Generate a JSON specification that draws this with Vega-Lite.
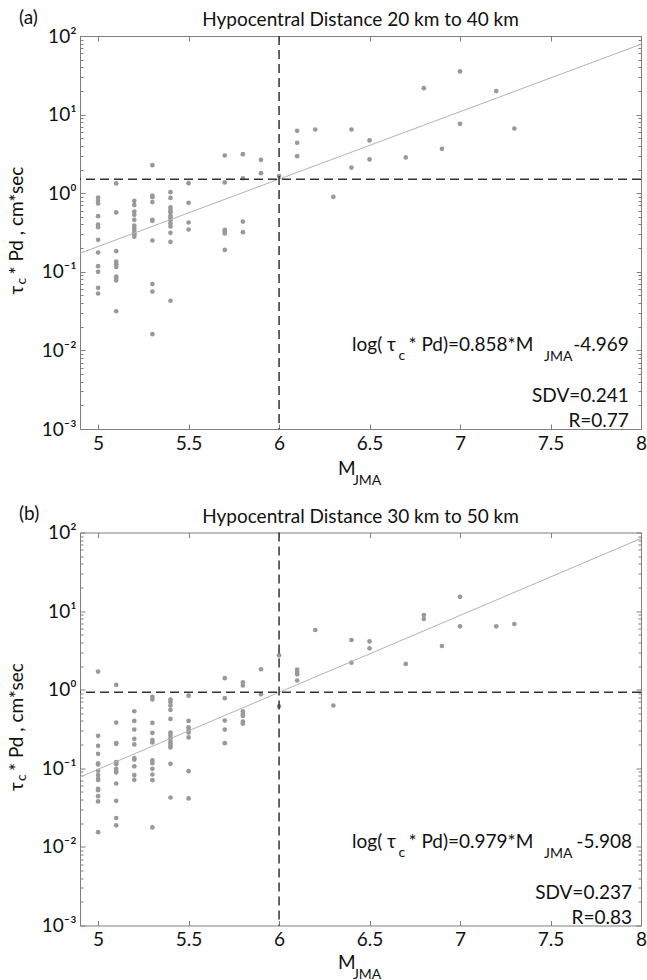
{
  "$schema": "https://vega.github.io/schema/vega-lite/v6.json",
  "padding": {"left": 7, "top": 8, "right": 0, "bottom": 0},
  "bounds": "flush",
  "spacing": 103.5,
  "datasets": {
    "pts": [
      {"p":"a","M":5.0,"v":0.88},{"p":"a","M":5.0,"v":0.81},{"p":"a","M":5.0,"v":0.74},{"p":"a","M":5.0,"v":0.51},{"p":"a","M":5.0,"v":0.40},{"p":"a","M":5.0,"v":0.37},{"p":"a","M":5.0,"v":0.255},{"p":"a","M":5.0,"v":0.176},{"p":"a","M":5.0,"v":0.118},{"p":"a","M":5.0,"v":0.100},{"p":"a","M":5.0,"v":0.0625},{"p":"a","M":5.0,"v":0.053},
      {"p":"a","M":5.1,"v":1.33},{"p":"a","M":5.1,"v":0.57},{"p":"a","M":5.1,"v":0.183},{"p":"a","M":5.1,"v":0.135},{"p":"a","M":5.1,"v":0.125},{"p":"a","M":5.1,"v":0.115},{"p":"a","M":5.1,"v":0.087},{"p":"a","M":5.1,"v":0.083},{"p":"a","M":5.1,"v":0.0775},{"p":"a","M":5.1,"v":0.0315},
      {"p":"a","M":5.2,"v":0.80},{"p":"a","M":5.2,"v":0.71},{"p":"a","M":5.2,"v":0.585},{"p":"a","M":5.2,"v":0.53},{"p":"a","M":5.2,"v":0.458},{"p":"a","M":5.2,"v":0.388},{"p":"a","M":5.2,"v":0.359},{"p":"a","M":5.2,"v":0.332},{"p":"a","M":5.2,"v":0.31},{"p":"a","M":5.2,"v":0.295},{"p":"a","M":5.2,"v":0.279},
      {"p":"a","M":5.3,"v":2.27},{"p":"a","M":5.3,"v":0.93},{"p":"a","M":5.3,"v":0.89},{"p":"a","M":5.3,"v":0.77},{"p":"a","M":5.3,"v":0.458},{"p":"a","M":5.3,"v":0.445},{"p":"a","M":5.3,"v":0.25},{"p":"a","M":5.3,"v":0.0697},{"p":"a","M":5.3,"v":0.056},{"p":"a","M":5.3,"v":0.0161},
      {"p":"a","M":5.4,"v":1.03},{"p":"a","M":5.4,"v":0.87},{"p":"a","M":5.4,"v":0.66},{"p":"a","M":5.4,"v":0.61},{"p":"a","M":5.4,"v":0.574},{"p":"a","M":5.4,"v":0.515},{"p":"a","M":5.4,"v":0.49},{"p":"a","M":5.4,"v":0.454},{"p":"a","M":5.4,"v":0.412},{"p":"a","M":5.4,"v":0.377},{"p":"a","M":5.4,"v":0.313},{"p":"a","M":5.4,"v":0.24},{"p":"a","M":5.4,"v":0.0428},
      {"p":"a","M":5.5,"v":1.34},{"p":"a","M":5.5,"v":0.755},{"p":"a","M":5.5,"v":0.424},{"p":"a","M":5.5,"v":0.345},
      {"p":"a","M":5.7,"v":3.02},{"p":"a","M":5.7,"v":1.37},{"p":"a","M":5.7,"v":0.342},{"p":"a","M":5.7,"v":0.326},{"p":"a","M":5.7,"v":0.307},{"p":"a","M":5.7,"v":0.19},
      {"p":"a","M":5.8,"v":3.14},{"p":"a","M":5.8,"v":1.55},{"p":"a","M":5.8,"v":0.436},{"p":"a","M":5.8,"v":0.319},
      {"p":"a","M":5.9,"v":2.66},{"p":"a","M":5.9,"v":1.80},
      {"p":"a","M":6.0,"v":1.65},
      {"p":"a","M":6.1,"v":6.22},{"p":"a","M":6.1,"v":4.37},{"p":"a","M":6.1,"v":2.96},
      {"p":"a","M":6.2,"v":6.46},
      {"p":"a","M":6.3,"v":0.90},
      {"p":"a","M":6.4,"v":6.46},{"p":"a","M":6.4,"v":2.12},
      {"p":"a","M":6.5,"v":4.69},{"p":"a","M":6.5,"v":2.69},
      {"p":"a","M":6.7,"v":2.85},
      {"p":"a","M":6.8,"v":21.7},
      {"p":"a","M":6.9,"v":3.67},
      {"p":"a","M":7.0,"v":35.4},{"p":"a","M":7.0,"v":7.63},
      {"p":"a","M":7.2,"v":19.9},
      {"p":"a","M":7.3,"v":6.66},
      {"p":"b","M":5.0,"v":1.70},{"p":"b","M":5.0,"v":0.259},{"p":"b","M":5.0,"v":0.193},{"p":"b","M":5.0,"v":0.153},{"p":"b","M":5.0,"v":0.116},{"p":"b","M":5.0,"v":0.112},{"p":"b","M":5.0,"v":0.093},{"p":"b","M":5.0,"v":0.0819},{"p":"b","M":5.0,"v":0.0735},{"p":"b","M":5.0,"v":0.071},{"p":"b","M":5.0,"v":0.0548},{"p":"b","M":5.0,"v":0.0527},{"p":"b","M":5.0,"v":0.0442},{"p":"b","M":5.0,"v":0.0379},{"p":"b","M":5.0,"v":0.0154},
      {"p":"b","M":5.1,"v":1.15},{"p":"b","M":5.1,"v":0.382},{"p":"b","M":5.1,"v":0.209},{"p":"b","M":5.1,"v":0.205},{"p":"b","M":5.1,"v":0.120},{"p":"b","M":5.1,"v":0.113},{"p":"b","M":5.1,"v":0.0986},{"p":"b","M":5.1,"v":0.093},{"p":"b","M":5.1,"v":0.0885},{"p":"b","M":5.1,"v":0.0641},{"p":"b","M":5.1,"v":0.0386},{"p":"b","M":5.1,"v":0.0233},{"p":"b","M":5.1,"v":0.0188},
      {"p":"b","M":5.2,"v":0.532},{"p":"b","M":5.2,"v":0.401},{"p":"b","M":5.2,"v":0.311},{"p":"b","M":5.2,"v":0.237},{"p":"b","M":5.2,"v":0.201},{"p":"b","M":5.2,"v":0.135},{"p":"b","M":5.2,"v":0.129},{"p":"b","M":5.2,"v":0.106},{"p":"b","M":5.2,"v":0.0819},{"p":"b","M":5.2,"v":0.0714},
      {"p":"b","M":5.3,"v":0.81},{"p":"b","M":5.3,"v":0.75},{"p":"b","M":5.3,"v":0.378},{"p":"b","M":5.3,"v":0.282},{"p":"b","M":5.3,"v":0.228},{"p":"b","M":5.3,"v":0.213},{"p":"b","M":5.3,"v":0.126},{"p":"b","M":5.3,"v":0.116},{"p":"b","M":5.3,"v":0.0985},{"p":"b","M":5.3,"v":0.0834},{"p":"b","M":5.3,"v":0.0706},{"p":"b","M":5.3,"v":0.0177},
      {"p":"b","M":5.4,"v":0.75},{"p":"b","M":5.4,"v":0.70},{"p":"b","M":5.4,"v":0.63},{"p":"b","M":5.4,"v":0.553},{"p":"b","M":5.4,"v":0.425},{"p":"b","M":5.4,"v":0.285},{"p":"b","M":5.4,"v":0.266},{"p":"b","M":5.4,"v":0.242},{"p":"b","M":5.4,"v":0.219},{"p":"b","M":5.4,"v":0.205},{"p":"b","M":5.4,"v":0.193},{"p":"b","M":5.4,"v":0.184},{"p":"b","M":5.4,"v":0.114},{"p":"b","M":5.4,"v":0.0425},
      {"p":"b","M":5.5,"v":0.84},{"p":"b","M":5.5,"v":0.401},{"p":"b","M":5.5,"v":0.333},{"p":"b","M":5.5,"v":0.308},{"p":"b","M":5.5,"v":0.285},{"p":"b","M":5.5,"v":0.247},{"p":"b","M":5.5,"v":0.092},{"p":"b","M":5.5,"v":0.0414},
      {"p":"b","M":5.7,"v":1.40},{"p":"b","M":5.7,"v":0.78},{"p":"b","M":5.7,"v":0.405},{"p":"b","M":5.7,"v":0.311},{"p":"b","M":5.7,"v":0.209},
      {"p":"b","M":5.8,"v":1.24},{"p":"b","M":5.8,"v":1.13},{"p":"b","M":5.8,"v":0.532},{"p":"b","M":5.8,"v":0.492},{"p":"b","M":5.8,"v":0.464},{"p":"b","M":5.8,"v":0.394},{"p":"b","M":5.8,"v":0.371},
      {"p":"b","M":5.9,"v":1.82},{"p":"b","M":5.9,"v":0.875},
      {"p":"b","M":6.0,"v":2.74},{"p":"b","M":6.0,"v":0.616},
      {"p":"b","M":6.1,"v":1.80},{"p":"b","M":6.1,"v":1.68},{"p":"b","M":6.1,"v":1.57},{"p":"b","M":6.1,"v":1.31},
      {"p":"b","M":6.2,"v":5.75},
      {"p":"b","M":6.3,"v":0.63},
      {"p":"b","M":6.4,"v":4.29},{"p":"b","M":6.4,"v":2.21},
      {"p":"b","M":6.5,"v":4.13},{"p":"b","M":6.5,"v":3.36},
      {"p":"b","M":6.7,"v":2.13},
      {"p":"b","M":6.8,"v":8.91},{"p":"b","M":6.8,"v":7.93},
      {"p":"b","M":6.9,"v":3.60},
      {"p":"b","M":7.0,"v":15.2},{"p":"b","M":7.0,"v":6.40},
      {"p":"b","M":7.2,"v":6.40},
      {"p":"b","M":7.3,"v":6.85}
    ],
    "fit": [
      {"p":"a","M":4.9,"v":0.172},{"p":"a","M":8.0,"v":78.5},
      {"p":"b","M":4.9,"v":0.0775},{"p":"b","M":8.0,"v":83.9}
    ]
  },
  "vconcat": [
    {
      "width": 561, "height": 393,
      "layer": [
        {
          "data": {"name": "pts"},
          "transform": [{"filter": "datum.p == 'a'"}],
          "mark": {"type": "circle", "size": 22, "color": "#999999", "opacity": 1},
          "encoding": {
            "x": {"field": "M", "type": "quantitative", "scale": {"domain": [4.9, 8], "nice": false, "zero": false},
                  "axis": {"orient": "bottom", "title": null, "values": [5,5.5,6,6.5,7,7.5,8], "labelExpr": "'' + datum.value", "tickSize": -5, "labelPadding": 10}},
            "y": {"field": "v", "type": "quantitative", "scale": {"type": "log", "domain": [0.001, 100], "nice": false},
                  "axis": {"orient": "left", "title": null,
                           "values": [0.001,0.002,0.003,0.004,0.005,0.006,0.007,0.008,0.009,0.01,0.02,0.03,0.04,0.05,0.06,0.07,0.08,0.09,0.1,0.2,0.3,0.4,0.5,0.6,0.7,0.8,0.9,1,2,3,4,5,6,7,8,9,10,20,30,40,50,60,70,80,90,100],
                           "labelExpr": "datum.value == 100 ? '10²' : datum.value == 10 ? '10¹' : datum.value == 1 ? '10⁰' : datum.value == 0.1 ? '10⁻¹' : datum.value == 0.01 ? '10⁻²' : datum.value == 0.001 ? '10⁻³' : ''",
                           "tickSize": {"condition": {"test": "datum.value == 0.001 || datum.value == 0.01 || datum.value == 0.1 || datum.value == 1 || datum.value == 10 || datum.value == 100", "value": -5}, "value": -3},
                           "labelPadding": 9}}
          }
        },
        {
          "data": {"name": "fit"},
          "transform": [{"filter": "datum.p == 'a'"}],
          "mark": {"type": "line", "color": "#b3b3b3", "strokeWidth": 1},
          "encoding": {
            "x": {"field": "M", "type": "quantitative", "axis": {"orient": "top", "title": null, "labels": false, "values": [5,5.5,6,6.5,7,7.5,8], "tickSize": -5}},
            "y": {"field": "v", "type": "quantitative", "axis": {"orient": "right", "title": null, "labels": false,
                  "values": [0.001,0.002,0.003,0.004,0.005,0.006,0.007,0.008,0.009,0.01,0.02,0.03,0.04,0.05,0.06,0.07,0.08,0.09,0.1,0.2,0.3,0.4,0.5,0.6,0.7,0.8,0.9,1,2,3,4,5,6,7,8,9,10,20,30,40,50,60,70,80,90,100],
                  "tickSize": {"condition": {"test": "datum.value == 0.001 || datum.value == 0.01 || datum.value == 0.1 || datum.value == 1 || datum.value == 10 || datum.value == 100", "value": -5}, "value": -3}}}
          }
        },
        {"data": {"values": [{}]}, "mark": {"type": "rule", "color": "#333333", "strokeWidth": 1.5, "strokeDash": [9, 5]},
         "encoding": {"y": {"datum": 1.51, "type": "quantitative", "axis": null}}},
        {"data": {"values": [{}]}, "mark": {"type": "rule", "color": "#333333", "strokeWidth": 1.5, "strokeDash": [9, 5]},
         "encoding": {"x": {"datum": 6, "type": "quantitative", "axis": null}}},
        {"data": {"values": [{}]}, "mark": {"type": "text", "align": "center", "baseline": "alphabetic", "dy": -10},
         "encoding": {"x": {"datum": 6.45, "type": "quantitative", "axis": null}, "y": {"datum": 100, "type": "quantitative", "axis": null}, "text": {"value": "Hypocentral Distance 20 km to 40 km"}}},
        {"data": {"values": [{}]}, "mark": {"type": "text", "align": "right", "baseline": "alphabetic", "dy": 1},
         "encoding": {"x": {"datum": 6.646, "type": "quantitative", "axis": null}, "y": {"datum": 0.01, "type": "quantitative", "axis": null}, "text": {"value": "log( τ"}}},
        {"data": {"values": [{}]}, "mark": {"type": "text", "align": "left", "baseline": "alphabetic", "dy": 10, "fontSize": 14},
         "encoding": {"x": {"datum": 6.66, "type": "quantitative", "axis": null}, "y": {"datum": 0.01, "type": "quantitative", "axis": null}, "text": {"value": "c"}}},
        {"data": {"values": [{}]}, "mark": {"type": "text", "align": "left", "baseline": "alphabetic", "dy": 1},
         "encoding": {"x": {"datum": 6.715, "type": "quantitative", "axis": null}, "y": {"datum": 0.01, "type": "quantitative", "axis": null}, "text": {"value": "* Pd)=0.858*M"}}},
        {"data": {"values": [{}]}, "mark": {"type": "text", "align": "left", "baseline": "alphabetic", "dy": 11, "fontSize": 14},
         "encoding": {"x": {"datum": 7.464, "type": "quantitative", "axis": null}, "y": {"datum": 0.01, "type": "quantitative", "axis": null}, "text": {"value": "JMA"}}},
        {"data": {"values": [{}]}, "mark": {"type": "text", "align": "right", "baseline": "alphabetic", "dy": 1},
         "encoding": {"x": {"datum": 7.933, "type": "quantitative", "axis": null}, "y": {"datum": 0.01, "type": "quantitative", "axis": null}, "text": {"value": "-4.969"}}},
        {"data": {"values": [{}]}, "mark": {"type": "text", "align": "right", "baseline": "alphabetic", "dy": 52},
         "encoding": {"x": {"datum": 7.933, "type": "quantitative", "axis": null}, "y": {"datum": 0.01, "type": "quantitative", "axis": null}, "text": {"value": "SDV=0.241"}}},
        {"data": {"values": [{}]}, "mark": {"type": "text", "align": "right", "baseline": "alphabetic", "dy": 77},
         "encoding": {"x": {"datum": 7.933, "type": "quantitative", "axis": null}, "y": {"datum": 0.01, "type": "quantitative", "axis": null}, "text": {"value": "R=0.77"}}},
        {"data": {"values": [{}]}, "mark": {"type": "text", "align": "left", "baseline": "alphabetic", "dy": 46},
         "encoding": {"x": {"datum": 6.325, "type": "quantitative", "axis": null}, "y": {"datum": 0.001, "type": "quantitative", "axis": null}, "text": {"value": "M"}}},
        {"data": {"values": [{}]}, "mark": {"type": "text", "align": "left", "baseline": "alphabetic", "dy": 56, "fontSize": 14},
         "encoding": {"x": {"datum": 6.408, "type": "quantitative", "axis": null}, "y": {"datum": 0.001, "type": "quantitative", "axis": null}, "text": {"value": "JMA"}}},
        {"data": {"values": [{}]}, "mark": {"type": "text", "align": "left", "baseline": "alphabetic", "dx": -61, "dy": -12},
         "encoding": {"x": {"datum": 4.9, "type": "quantitative", "axis": null}, "y": {"datum": 100, "type": "quantitative", "axis": null}, "text": {"value": "(a)"}}},
        {"data": {"values": [{}]}, "mark": {"type": "text", "align": "left", "baseline": "alphabetic", "angle": 270, "dx": 0, "dy": -57},
         "encoding": {"x": {"datum": 4.9, "type": "quantitative", "axis": null}, "y": {"datum": 0.0514, "type": "quantitative", "axis": null}, "text": {"value": "τ"}}},
        {"data": {"values": [{}]}, "mark": {"type": "text", "align": "left", "baseline": "alphabetic", "angle": 270, "dx": 10, "dy": -54, "fontSize": 14},
         "encoding": {"x": {"datum": 4.9, "type": "quantitative", "axis": null}, "y": {"datum": 0.0514, "type": "quantitative", "axis": null}, "text": {"value": "c"}}},
        {"data": {"values": [{}]}, "mark": {"type": "text", "align": "left", "baseline": "alphabetic", "angle": 270, "dx": 20, "dy": -57},
         "encoding": {"x": {"datum": 4.9, "type": "quantitative", "axis": null}, "y": {"datum": 0.0514, "type": "quantitative", "axis": null}, "text": {"value": "* Pd , cm*sec"}}}
      ],
      "resolve": {"axis": {"x": "independent", "y": "independent"}}
    },
    {
      "width": 561, "height": 393,
      "layer": [
        {
          "data": {"name": "pts"},
          "transform": [{"filter": "datum.p == 'b'"}],
          "mark": {"type": "circle", "size": 22, "color": "#999999", "opacity": 1},
          "encoding": {
            "x": {"field": "M", "type": "quantitative", "scale": {"domain": [4.9, 8], "nice": false, "zero": false},
                  "axis": {"orient": "bottom", "title": null, "values": [5,5.5,6,6.5,7,7.5,8], "labelExpr": "'' + datum.value", "tickSize": -5, "labelPadding": 10}},
            "y": {"field": "v", "type": "quantitative", "scale": {"type": "log", "domain": [0.001, 100], "nice": false},
                  "axis": {"orient": "left", "title": null,
                           "values": [0.001,0.002,0.003,0.004,0.005,0.006,0.007,0.008,0.009,0.01,0.02,0.03,0.04,0.05,0.06,0.07,0.08,0.09,0.1,0.2,0.3,0.4,0.5,0.6,0.7,0.8,0.9,1,2,3,4,5,6,7,8,9,10,20,30,40,50,60,70,80,90,100],
                           "labelExpr": "datum.value == 100 ? '10²' : datum.value == 10 ? '10¹' : datum.value == 1 ? '10⁰' : datum.value == 0.1 ? '10⁻¹' : datum.value == 0.01 ? '10⁻²' : datum.value == 0.001 ? '10⁻³' : ''",
                           "tickSize": {"condition": {"test": "datum.value == 0.001 || datum.value == 0.01 || datum.value == 0.1 || datum.value == 1 || datum.value == 10 || datum.value == 100", "value": -5}, "value": -3},
                           "labelPadding": 9}}
          }
        },
        {
          "data": {"name": "fit"},
          "transform": [{"filter": "datum.p == 'b'"}],
          "mark": {"type": "line", "color": "#b3b3b3", "strokeWidth": 1},
          "encoding": {
            "x": {"field": "M", "type": "quantitative", "axis": {"orient": "top", "title": null, "labels": false, "values": [5,5.5,6,6.5,7,7.5,8], "tickSize": -5}},
            "y": {"field": "v", "type": "quantitative", "axis": {"orient": "right", "title": null, "labels": false,
                  "values": [0.001,0.002,0.003,0.004,0.005,0.006,0.007,0.008,0.009,0.01,0.02,0.03,0.04,0.05,0.06,0.07,0.08,0.09,0.1,0.2,0.3,0.4,0.5,0.6,0.7,0.8,0.9,1,2,3,4,5,6,7,8,9,10,20,30,40,50,60,70,80,90,100],
                  "tickSize": {"condition": {"test": "datum.value == 0.001 || datum.value == 0.01 || datum.value == 0.1 || datum.value == 1 || datum.value == 10 || datum.value == 100", "value": -5}, "value": -3}}}
          }
        },
        {"data": {"values": [{}]}, "mark": {"type": "rule", "color": "#333333", "strokeWidth": 1.5, "strokeDash": [9, 5]},
         "encoding": {"y": {"datum": 0.925, "type": "quantitative", "axis": null}}},
        {"data": {"values": [{}]}, "mark": {"type": "rule", "color": "#333333", "strokeWidth": 1.5, "strokeDash": [9, 5]},
         "encoding": {"x": {"datum": 6, "type": "quantitative", "axis": null}}},
        {"data": {"values": [{}]}, "mark": {"type": "text", "align": "center", "baseline": "alphabetic", "dy": -10},
         "encoding": {"x": {"datum": 6.45, "type": "quantitative", "axis": null}, "y": {"datum": 100, "type": "quantitative", "axis": null}, "text": {"value": "Hypocentral Distance 30 km to 50 km"}}},
        {"data": {"values": [{}]}, "mark": {"type": "text", "align": "right", "baseline": "alphabetic", "dy": 1},
         "encoding": {"x": {"datum": 6.646, "type": "quantitative", "axis": null}, "y": {"datum": 0.01, "type": "quantitative", "axis": null}, "text": {"value": "log( τ"}}},
        {"data": {"values": [{}]}, "mark": {"type": "text", "align": "left", "baseline": "alphabetic", "dy": 10, "fontSize": 14},
         "encoding": {"x": {"datum": 6.66, "type": "quantitative", "axis": null}, "y": {"datum": 0.01, "type": "quantitative", "axis": null}, "text": {"value": "c"}}},
        {"data": {"values": [{}]}, "mark": {"type": "text", "align": "left", "baseline": "alphabetic", "dy": 1},
         "encoding": {"x": {"datum": 6.715, "type": "quantitative", "axis": null}, "y": {"datum": 0.01, "type": "quantitative", "axis": null}, "text": {"value": "* Pd)=0.979*M"}}},
        {"data": {"values": [{}]}, "mark": {"type": "text", "align": "left", "baseline": "alphabetic", "dy": 11, "fontSize": 14},
         "encoding": {"x": {"datum": 7.464, "type": "quantitative", "axis": null}, "y": {"datum": 0.01, "type": "quantitative", "axis": null}, "text": {"value": "JMA"}}},
        {"data": {"values": [{}]}, "mark": {"type": "text", "align": "right", "baseline": "alphabetic", "dy": 1},
         "encoding": {"x": {"datum": 7.95, "type": "quantitative", "axis": null}, "y": {"datum": 0.01, "type": "quantitative", "axis": null}, "text": {"value": "-5.908"}}},
        {"data": {"values": [{}]}, "mark": {"type": "text", "align": "right", "baseline": "alphabetic", "dy": 52},
         "encoding": {"x": {"datum": 7.95, "type": "quantitative", "axis": null}, "y": {"datum": 0.01, "type": "quantitative", "axis": null}, "text": {"value": "SDV=0.237"}}},
        {"data": {"values": [{}]}, "mark": {"type": "text", "align": "right", "baseline": "alphabetic", "dy": 77},
         "encoding": {"x": {"datum": 7.95, "type": "quantitative", "axis": null}, "y": {"datum": 0.01, "type": "quantitative", "axis": null}, "text": {"value": "R=0.83"}}},
        {"data": {"values": [{}]}, "mark": {"type": "text", "align": "left", "baseline": "alphabetic", "dy": 43},
         "encoding": {"x": {"datum": 6.325, "type": "quantitative", "axis": null}, "y": {"datum": 0.001, "type": "quantitative", "axis": null}, "text": {"value": "M"}}},
        {"data": {"values": [{}]}, "mark": {"type": "text", "align": "left", "baseline": "alphabetic", "dy": 53, "fontSize": 14},
         "encoding": {"x": {"datum": 6.408, "type": "quantitative", "axis": null}, "y": {"datum": 0.001, "type": "quantitative", "axis": null}, "text": {"value": "JMA"}}},
        {"data": {"values": [{}]}, "mark": {"type": "text", "align": "left", "baseline": "alphabetic", "dx": -61, "dy": -13},
         "encoding": {"x": {"datum": 4.9, "type": "quantitative", "axis": null}, "y": {"datum": 100, "type": "quantitative", "axis": null}, "text": {"value": "(b)"}}},
        {"data": {"values": [{}]}, "mark": {"type": "text", "align": "left", "baseline": "alphabetic", "angle": 270, "dx": 0, "dy": -57},
         "encoding": {"x": {"datum": 4.9, "type": "quantitative", "axis": null}, "y": {"datum": 0.0514, "type": "quantitative", "axis": null}, "text": {"value": "τ"}}},
        {"data": {"values": [{}]}, "mark": {"type": "text", "align": "left", "baseline": "alphabetic", "angle": 270, "dx": 10, "dy": -54, "fontSize": 14},
         "encoding": {"x": {"datum": 4.9, "type": "quantitative", "axis": null}, "y": {"datum": 0.0514, "type": "quantitative", "axis": null}, "text": {"value": "c"}}},
        {"data": {"values": [{}]}, "mark": {"type": "text", "align": "left", "baseline": "alphabetic", "angle": 270, "dx": 20, "dy": -57},
         "encoding": {"x": {"datum": 4.9, "type": "quantitative", "axis": null}, "y": {"datum": 0.0514, "type": "quantitative", "axis": null}, "text": {"value": "* Pd , cm*sec"}}}
      ],
      "resolve": {"axis": {"x": "independent", "y": "independent"}}
    }
  ],
  "config": {
    "font": "Lato",
    "view": {"stroke": "#7f7f7f", "strokeWidth": 1},
    "axis": {"domain": false, "grid": false, "ticks": true, "tickColor": "#7f7f7f", "tickWidth": 1,
             "labelFont": "Lato, Noto Sans", "labelFontSize": 19, "labelColor": "#111111", "labelFlush": false, "labelOverlap": false},
    "text": {"font": "Lato", "fontSize": 19, "color": "#111111"}
  }
}
